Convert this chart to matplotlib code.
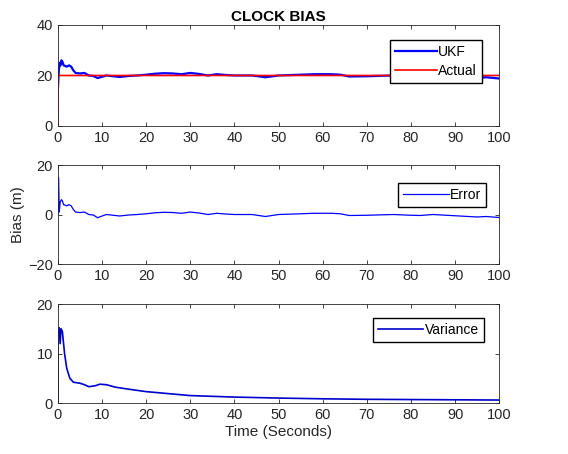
"""
 Clock bias plots: UKF estimate, error, variance
"""
import numpy as np
import matplotlib
matplotlib.use('Agg')
import matplotlib.pyplot as plt

plt.rcParams['font.family'] = ['Liberation Sans', 'DejaVu Sans']

# UKF estimate
t_ukf = [0, 0.2, 0.4, 0.6, 0.8, 1.0, 1.3, 1.6, 2.0, 2.5, 3.0, 3.5, 4.0, 5.0, 6.0, 6.5,
         7.0, 8.0, 9.0, 10.0, 11.0, 12.0, 14.0, 16.0, 18.0, 20.0, 22.0, 24.0, 26.0,
         28.0, 30.0, 32.0, 34.0, 36.0, 38.0, 40.0, 44.0, 47.0, 50.0, 55.0, 58.0,
         62.0, 64.0, 66.0, 70.0, 72.0, 76.0, 80.0, 85.0, 90.0, 93.0, 95.0, 97.0, 100.0]
ukf = [15.0, 22.0, 25.0, 24.0, 26.0, 25.5, 24.0, 23.8, 23.5, 24.0, 23.5, 22.0, 21.0,
       20.8, 21.0, 20.5, 20.0, 19.8, 19.0, 19.5, 20.0, 19.8, 19.4, 19.8, 20.0, 20.3,
       20.7, 20.9, 20.8, 20.5, 21.0, 20.6, 20.0, 20.5, 20.2, 20.0, 20.0, 19.3, 20.0,
       20.3, 20.5, 20.5, 20.3, 19.6, 19.7, 19.8, 20.0, 19.7, 20.0, 19.6, 19.5, 19.0,
       19.3, 18.8]

# Actual bias
t_act = [0, 0.05, 100]
actual = [0, 20, 20]

# Error
t_err = [0, 0.15, 0.3, 0.5, 0.8, 1.0, 1.3, 1.6, 2.0, 2.5, 3.0, 3.5, 4.0, 5.0, 6.0, 6.5,
         7.0, 8.0, 9.0, 10.0, 11.0, 12.0, 14.0, 16.0, 18.0, 20.0, 22.0, 24.0, 26.0,
         28.0, 30.0, 32.0, 34.0, 36.0, 38.0, 40.0, 44.0, 47.0, 50.0, 55.0, 58.0,
         62.0, 64.0, 66.0, 70.0, 72.0, 76.0, 80.0, 82.0, 85.0, 90.0, 95.0, 97.0, 100.0]
err = [0.0, 15.0, 1.0, 5.0, 6.0, 5.5, 4.0, 3.8, 3.5, 4.0, 3.5, 2.0, 1.0,
       0.8, 1.0, 0.5, 0.0, -0.2, -1.3, -0.6, 0.0, -0.2, -0.6, -0.2, 0.0, 0.3,
       0.7, 0.9, 0.8, 0.5, 1.0, 0.6, 0.0, 0.5, 0.2, 0.0, 0.0, -0.8, 0.0,
       0.3, 0.5, 0.5, 0.3, -0.4, -0.3, -0.2, 0.0, -0.3, -0.4, 0.0, -0.5, -1.0,
       -0.8, -1.2]

# Variance
t_var = [0, 0.02, 0.3, 0.5, 0.7, 1.0, 1.5, 2.0, 2.7, 3.5, 5.0, 6.0, 7.0, 8.5, 9.5,
         11.0, 13.0, 16.0, 20.0, 25.0, 30.0, 40.0, 50.0, 60.0, 70.0, 80.0, 90.0, 100.0]
var = [0, 15.0, 15.2, 12.0, 15.0, 14.5, 10.0, 7.0, 5.0, 4.2, 4.0, 3.7, 3.3, 3.5, 3.8,
       3.7, 3.2, 2.8, 2.3, 1.9, 1.5, 1.2, 1.0, 0.85, 0.75, 0.7, 0.65, 0.6]

AX_COLOR = '#262626'

fig = plt.figure(figsize=(5.68, 4.54), dpi=100)
ax1 = fig.add_axes([0.102, 0.7225, 0.777, 0.2225])
ax2 = fig.add_axes([0.102, 0.4185, 0.777, 0.218])
ax3 = fig.add_axes([0.102, 0.1123, 0.777, 0.218])


def style(ax, ylim, yticks):
    """ matlab-like axes """
    ax.set_xlim(0, 100)
    ax.set_ylim(*ylim)
    ax.set_xticks(np.arange(0, 101, 10))
    ax.set_yticks(yticks)
    ax.tick_params(direction='in', top=True, right=True, labelsize=10.5,
                   colors=AX_COLOR, length=3, width=0.6)
    for s in ax.spines.values():
        s.set_color(AX_COLOR)
        s.set_linewidth(0.6)


def add_legend(ax, anchor, hlen):
    """ boxed legend, top right """
    ax.legend(loc='upper right', bbox_to_anchor=anchor, borderaxespad=0,
              fontsize=10, fancybox=False, edgecolor='black', framealpha=1,
              handlelength=hlen, handletextpad=0.1, borderpad=0.35,
              labelspacing=0.35)


ax1.plot(t_ukf, ukf, color='#0000ff', lw=1.6, label='UKF')
ax1.plot(t_act, actual, color='#ff0000', lw=1.2, label='Actual')
style(ax1, (0, 40), [0, 20, 40])
ax1.set_title('CLOCK BIAS', fontsize=11, fontweight='bold', pad=3)
add_legend(ax1, (0.96, 0.85), 3.0)

ax2.plot(t_err, err, color='#0000ff', lw=0.9, label='Error')
style(ax2, (-20, 20), [-20, 0, 20])
ax2.set_ylabel('Bias (m)', fontsize=11, color=AX_COLOR, labelpad=2)
add_legend(ax2, (0.97, 0.82), 3.3)

ax3.plot(t_var, var, color='#0000cc', lw=1.2, label='Variance')
style(ax3, (0, 20), [0, 10, 20])
ax3.set_xlabel('Time (Seconds)', fontsize=11, color=AX_COLOR, labelpad=2)
add_legend(ax3, (0.965, 0.86), 3.3)

fig.savefig('out.png', dpi=100)
